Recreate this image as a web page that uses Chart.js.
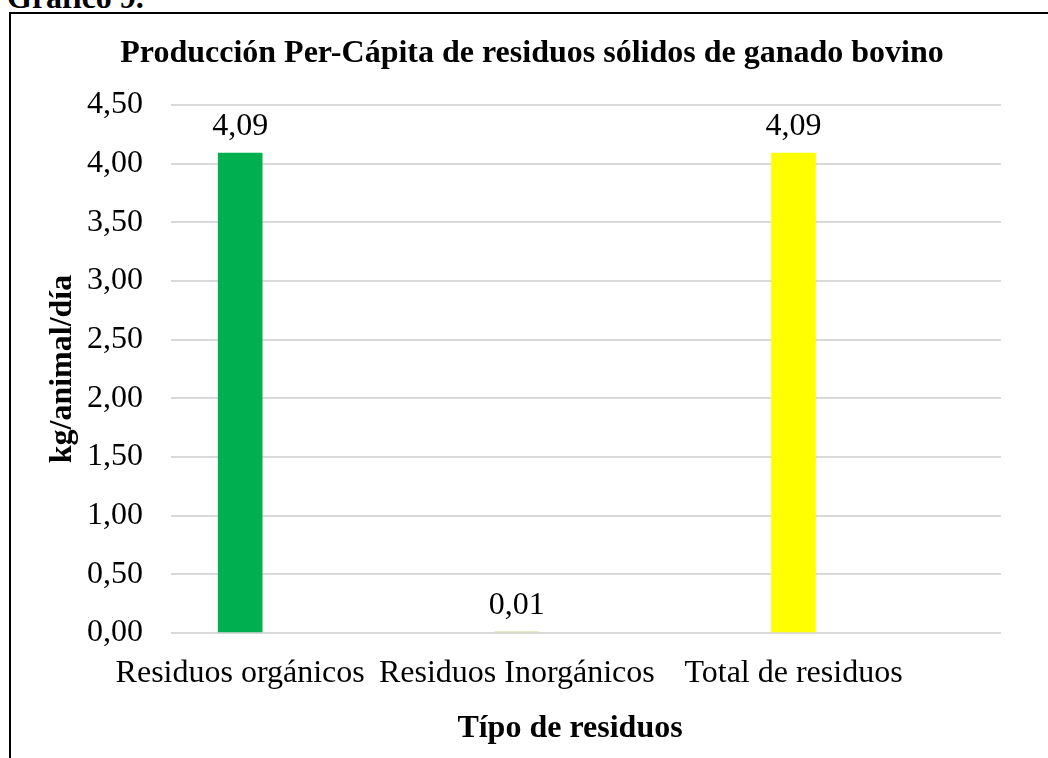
<!DOCTYPE html>
<html lang="es">
<head>
<meta charset="utf-8">
<title>Producción Per-Cápita de residuos sólidos de ganado bovino</title>
<script src="https://cdn.jsdelivr.net/npm/chart.js@4.4.1/dist/chart.umd.min.js"></script>
<style>
  html, body { margin: 0; padding: 0; background: #ffffff; overflow: hidden; }
  body { width: 1048px; height: 758px; position: relative; }
  .caption {
    position: absolute; left: 7px; top: -19px;
    font: bold 32px/32px 'Liberation Serif', 'Times New Roman', serif; color: #000;
  }
  .frame {
    position: absolute; left: 9px; top: 12px; width: 1200px; height: 900px;
    border-top: 2px solid #000; border-left: 2px solid #000;
  }
  #chartWrap { position: absolute; left: 0; top: 0; width: 1048px; height: 758px; }
</style>
</head>
<body>
<div class="caption">Gráfico 9.</div>
<div class="frame"></div>
<div id="chartWrap"><canvas id="chart"></canvas></div>
<script>
  const categories = ['Residuos orgánicos', 'Residuos Inorgánicos', 'Total de residuos'];
  const perCapita = [4.09, 0.01, 4.09];
  const barColors = ['#00B050', '#C9D98A', '#FFFF00'];
  const yTicks = [0, 0.5, 1, 1.5, 2, 2.5, 3, 3.5, 4, 4.5];

  const serif = "'Liberation Serif', 'Times New Roman', serif";
  const fmt = (v) => v.toFixed(2).replace('.', ',');

  // titles and value labels, drawn on the canvas
  const textPlugin = {
    id: 'textPlugin',
    afterDatasetsDraw(chart) {
      const ctx = chart.ctx;
      const area = chart.chartArea;
      ctx.save();
      ctx.fillStyle = '#000';
      ctx.textAlign = 'center';
      ctx.textBaseline = 'alphabetic';

      ctx.font = '32px ' + serif;
      chart.getDatasetMeta(0).data.forEach((bar, i) => {
        ctx.fillText(fmt(perCapita[i]), bar.x, bar.y - 18);
      });

      ctx.font = 'bold 32px ' + serif;
      ctx.fillText('Producción Per-Cápita de residuos sólidos de ganado bovino', 532, 62);
      ctx.fillText('Típo de residuos', (area.left + area.right) / 2 - 16, 737);
      ctx.restore();
    }
  };

  new Chart(document.getElementById('chart'), {
    type: 'bar',
    data: {
      datasets: [{
        data: perCapita.map((v, i) => ({ x: i, y: v })),
        backgroundColor: barColors,
        barThickness: 44,
        borderWidth: 0
      }]
    },
    options: {
      responsive: true,
      maintainAspectRatio: false,
      animation: false,
      layout: { padding: { top: 105, left: 10, right: 47, bottom: 0 } },
      plugins: {
        legend: { display: false },
        tooltip: { enabled: false }
      },
      scales: {
        x: {
          type: 'linear',
          min: -0.25,
          max: 2.75,
          offset: false,
          grid: { display: false },
          border: { display: false },
          afterBuildTicks: (scale) => { scale.ticks = categories.map((c, i) => ({ value: i })); },
          afterFit: (scale) => { scale.height = 125; },
          ticks: {
            autoSkip: false,
            maxRotation: 0,
            minRotation: 0,
            padding: 13,
            color: '#000',
            font: { family: serif, size: 32 },
            callback: (v) => categories[v]
          }
        },
        y: {
          min: 0,
          max: 4.5,
          afterBuildTicks: (scale) => { scale.ticks = yTicks.map((v) => ({ value: v })); },
          afterFit: (scale) => { scale.width = 161; },
          grid: { color: '#d9d9d9', lineWidth: 2, drawTicks: false },
          border: { display: false },
          ticks: {
            padding: 28,
            color: '#000',
            font: { family: serif, size: 32 },
            callback: (v) => fmt(v)
          },
          title: {
            display: true,
            text: 'kg/animal/día',
            color: '#000',
            font: { family: serif, size: 32, weight: 'bold' },
            padding: { top: 34, bottom: 4 }
          }
        }
      }
    },
    plugins: [textPlugin]
  });
</script>
</body>
</html>
